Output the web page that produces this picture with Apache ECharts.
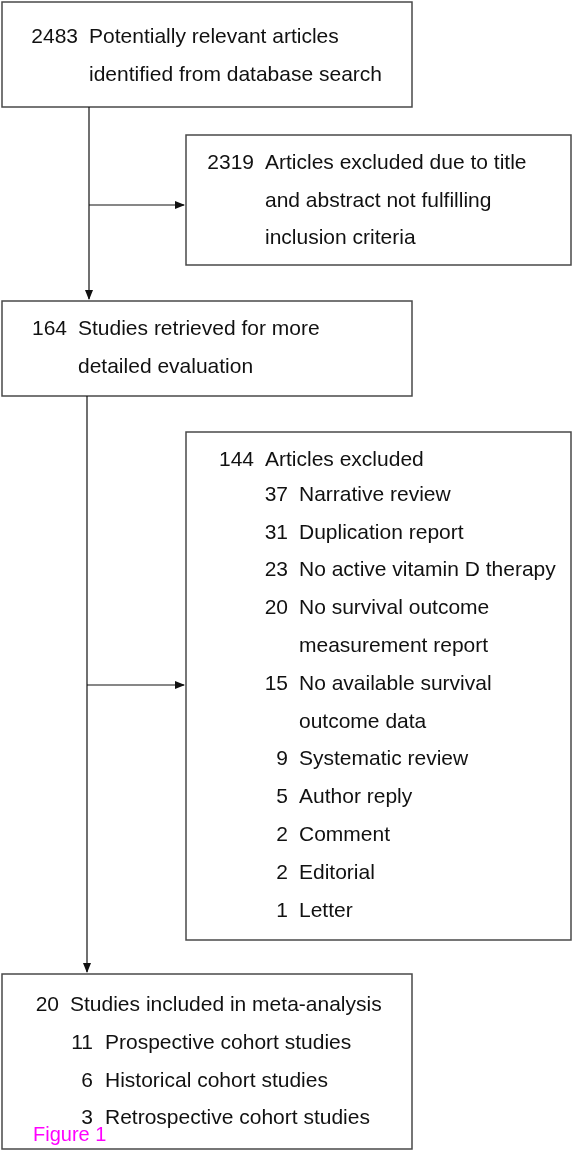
<!DOCTYPE html>
<html><head><meta charset="utf-8">
<script src="https://cdn.jsdelivr.net/npm/echarts@6/dist/echarts.min.js"></script>
<style>html,body{margin:0;padding:0;background:#fff}#c{width:574px;height:1152px}</style>
</head><body><div id="c"></div>
<script>
// ---- data ----
const identifiedCount = '2483';
const identifiedText = ['Potentially relevant articles', 'identified from database search'];
const screenExcludedCount = '2319';
const screenExcludedText = ['Articles excluded due to title', 'and abstract not fulfilling', 'inclusion criteria'];
const retrievedCount = '164';
const retrievedText = ['Studies retrieved for more', 'detailed evaluation'];
const excludedCount = '144';
const excludedTitle = 'Articles excluded';
const exclusionCounts = ['37', '31', '23', '20', '', '15', '', '9', '5', '2', '2', '1'];
const exclusionReasons = ['Narrative review', 'Duplication report', 'No active vitamin D therapy', 'No survival outcome',
  'measurement report', 'No available survival', 'outcome data', 'Systematic review', 'Author reply', 'Comment', 'Editorial', 'Letter'];
const includedCount = '20';
const includedTitle = 'Studies included in meta-analysis';
const designCounts = ['11', '6', '3'];
const designNames = ['Prospective cohort studies', 'Historical cohort studies', 'Retrospective cohort studies'];
const figureLabel = 'Figure 1';

// ---- layout ----
const FONT = '21px "Liberation Sans", Arial, Helvetica, sans-serif';
const LINE = 37.8;
const els = [];
function box(x, y, w, h) {
  els.push({type: 'rect', shape: {x: x, y: y, width: w, height: h},
    style: {fill: '#fff', stroke: '#4a4a4a', lineWidth: 1.5}, z: 1});
}
function txt(x, y, s, align, color) {
  els.push({type: 'text', x: x, y: y, z: 3,
    style: {text: s, font: FONT, fill: '#111', textAlign: align || 'left', textVerticalAlign: 'middle'}});
}
function line(x1, y1, x2, y2) {
  els.push({type: 'line', shape: {x1: x1, y1: y1, x2: x2, y2: y2}, style: {stroke: '#111', lineWidth: 1.2}, z: 2});
}
function arrowDown(x, y) {
  els.push({type: 'polygon', shape: {points: [[x - 4, y - 10], [x + 4, y - 10], [x, y]]}, style: {fill: '#111'}, z: 2});
}
function arrowRight(x, y) {
  els.push({type: 'polygon', shape: {points: [[x - 10, y - 4], [x - 10, y + 4], [x, y]]}, style: {fill: '#111'}, z: 2});
}

// connectors
line(89, 107, 89, 299); arrowDown(89, 300);
line(89, 205, 184, 205); arrowRight(185, 205);
line(87, 396, 87, 972); arrowDown(87, 973);
line(87, 685, 184, 685); arrowRight(185, 685);

// box 1
box(2, 2, 410, 105);
txt(78, 37, identifiedCount, 'right');
identifiedText.forEach((s, i) => txt(89, 37 + i * LINE, s));

// box 2
box(186, 135, 385, 130);
txt(254, 163, screenExcludedCount, 'right');
screenExcludedText.forEach((s, i) => txt(265, 163 + i * LINE, s));

// box 3
box(2, 301, 410, 95);
txt(67, 329, retrievedCount, 'right');
retrievedText.forEach((s, i) => txt(78, 329 + i * LINE, s));

// box 4
box(186, 432, 385, 508);
txt(254, 460, excludedCount, 'right');
txt(265, 460, excludedTitle);
exclusionReasons.forEach((s, i) => {
  const y = 495 + i * 37.8;
  if (exclusionCounts[i]) txt(288, y, exclusionCounts[i], 'right');
  txt(299, y, s);
});

// box 5
box(2, 974, 410, 175);
txt(59, 1005, includedCount, 'right');
txt(70, 1005, includedTitle);
designNames.forEach((s, i) => {
  const y = 1043 + i * 37.8;
  txt(93, y, designCounts[i], 'right');
  txt(105, y, s);
});

// figure label
els.push({type: 'text', x: 33, y: 1135, z: 4,
  style: {text: figureLabel, font: '20px "Liberation Sans", Arial, sans-serif', fill: '#ff00ff', textAlign: 'left', textVerticalAlign: 'middle'}});

const chart = echarts.init(document.getElementById('c'), null, {renderer: 'canvas'});
chart.setOption({animation: false, backgroundColor: '#fff', graphic: {elements: els}});
</script></body></html>
